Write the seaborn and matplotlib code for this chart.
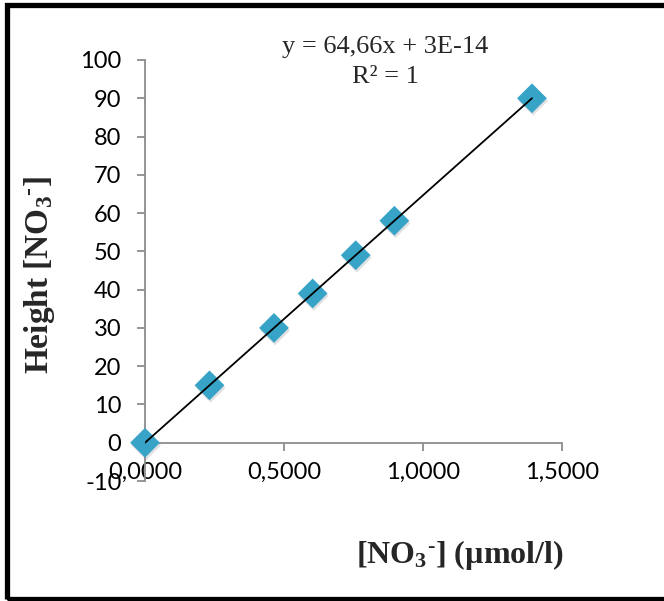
import matplotlib
matplotlib.use('Agg')
import matplotlib.pyplot as plt
import seaborn as sns
from matplotlib.patches import Rectangle
from matplotlib.ticker import FixedLocator, FixedFormatter
import matplotlib.patheffects as pe

# ---- data ----
conc = [0.0, 0.232, 0.464, 0.603, 0.758, 0.897, 1.392]
height = [0, 15, 30, 39, 49, 58, 90]
x_ticks = [0.0, 0.5, 1.0, 1.5]
x_tick_labels = ['0,0000', '0,5000', '1,0000', '1,5000']
y_ticks = [-10, 0, 10, 20, 30, 40, 50, 60, 70, 80, 90, 100]
y_tick_labels = [str(v) for v in y_ticks]
equation = 'y = 64,66x + 3E-14'
r2_text = 'R² = 1'
x_label = r'[NO$_3$$^{\text{-}}$] (µmol/l)'
y_label = r'Height [NO$_3$$^{\text{-}}$]'

sns.set_theme(style='white')
plt.rcParams['font.family'] = ['Lato', 'DejaVu Sans']
plt.rcParams['mathtext.fontset'] = 'custom'
plt.rcParams['mathtext.rm'] = 'Liberation Serif:bold'
plt.rcParams['mathtext.bf'] = 'Liberation Serif:bold'
plt.rcParams['mathtext.it'] = 'Liberation Serif:bold'

W, H = 664, 601
fig = plt.figure(figsize=(W / 100, H / 100), dpi=100)
fig.patch.set_facecolor('white')
ax = fig.add_axes([145 / W, 1 - 481 / H, (562 - 145) / W, (481 - 60) / H])

marker_color = '#36A3C7'
sns.scatterplot(x=conc, y=height, marker='D', s=230, color=marker_color,
                edgecolor='none', linewidth=0, zorder=3, ax=ax)
for coll in ax.collections:
    coll.set_clip_on(False)
    coll.set_path_effects([pe.SimplePatchShadow(offset=(0.8, -1.8), shadow_rgbFace='#7a7a7a',
                                                alpha=0.22), pe.Normal()])
sns.regplot(x=conc, y=height, scatter=False, ci=None, truncate=True,
            line_kws=dict(color='black', lw=1.3, zorder=4), ax=ax)

ax.set_xlim(0, 1.5)
ax.set_ylim(-10, 100)
ax.xaxis.set_major_locator(FixedLocator(x_ticks))
ax.xaxis.set_major_formatter(FixedFormatter(x_tick_labels))
ax.yaxis.set_major_locator(FixedLocator(y_ticks))
ax.yaxis.set_major_formatter(FixedFormatter(y_tick_labels))

spine_color = '#8C8C8C'
for s in ['top', 'right']:
    ax.spines[s].set_visible(False)
ax.spines['bottom'].set_position(('data', 0))
for s in ['left', 'bottom']:
    ax.spines[s].set_color(spine_color)
    ax.spines[s].set_linewidth(1.3)
ax.tick_params(axis='both', which='major', direction='out', length=6, width=1.3,
               color=spine_color, labelcolor='black', labelsize=17)
ax.tick_params(axis='y', pad=11, left=True)
ax.tick_params(axis='x', pad=8, bottom=True)
ax.set_xlabel('')
ax.set_ylabel('')
ax.grid(False)

# axis titles
ax.text((460 - 145) / 417, (481 - 555) / 421, x_label, transform=ax.transAxes,
        ha='center', va='center', fontsize=23, family='Liberation Serif', weight='bold')
ax.text((40 - 145) / 417, (481 - 275) / 421, y_label, transform=ax.transAxes,
        ha='center', va='center', rotation=90, fontsize=24, family='Liberation Serif',
        weight='bold')

# trendline equation
fig.text(385 / W, 1 - 47 / H, equation, ha='center', va='center',
         family='Liberation Serif', fontsize=19)
fig.text(385 / W, 1 - 77 / H, r2_text, ha='center', va='center',
         family='Liberation Serif', fontsize=19)

# outer border
fig.patches.append(Rectangle((6.5 / W, 2.5 / H), 1.1, (598.5 - 5) / H,
                             transform=fig.transFigure, fill=False,
                             edgecolor='black', lw=3.8, clip_on=False))

fig.savefig('out.png', dpi=100)
